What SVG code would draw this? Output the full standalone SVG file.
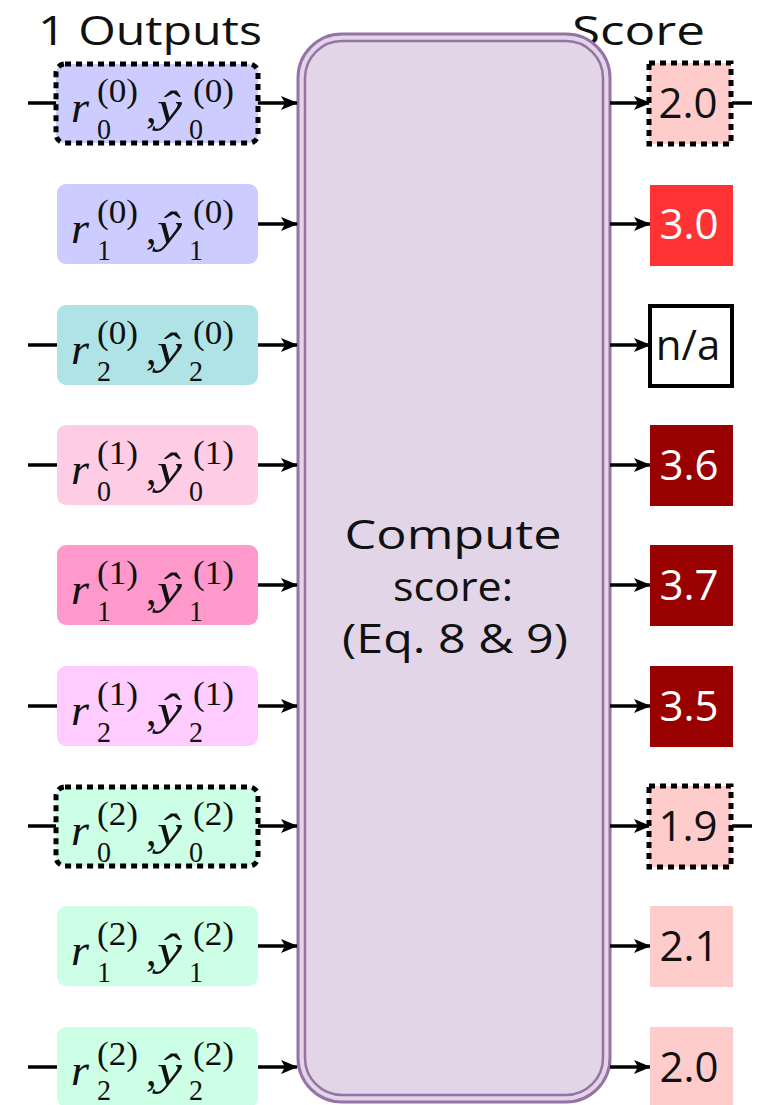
<svg xmlns="http://www.w3.org/2000/svg" width="767" height="1105" viewBox="0 0 767 1105">
  <style>
    .hdr { font-family: "Open Sans", "Liberation Sans", sans-serif; font-size: 41px; fill: #111; }
    .big { font-family: "Open Sans", "Liberation Sans", sans-serif; font-size: 40px; fill: #111; text-anchor: middle; }
    .sc { font-family: "Open Sans", "Liberation Sans", sans-serif; font-size: 42px; text-anchor: middle; }
    .m { font-family: "Liberation Serif", "Times New Roman", serif; font-style: italic; font-size: 44px; fill: #111; }
    .up { font-family: "Liberation Serif", "Times New Roman", serif; font-size: 42px; fill: #111; }
    .sp { font-family: "Liberation Serif", "Times New Roman", serif; font-size: 34px; fill: #111; }
    .sb { font-family: "Liberation Serif", "Times New Roman", serif; font-size: 30px; fill: #111; }
    .dot { stroke: #000; stroke-width: 5; stroke-dasharray: 6 5; }
    .wire { stroke: #000; stroke-width: 3.5; fill: none; }
    .arr { stroke: #000; stroke-width: 3.5; fill: none; marker-end: url(#head); }
  </style>
  <defs>
    <marker id="head" markerUnits="userSpaceOnUse" markerWidth="17" markerHeight="14" refX="16" refY="7" orient="auto">
      <path d="M0,0 L17,7 L0,14 L4,7 Z" fill="#000"/>
    </marker>
  </defs>

  <rect width="767" height="1105" fill="#fff"/>

  <!-- column headers -->
  <text id="hdr-outputs" class="hdr" x="38" y="45" textLength="224" lengthAdjust="spacingAndGlyphs">1 Outputs</text>
  <text id="hdr-score" class="hdr" x="572" y="45" textLength="133" lengthAdjust="spacingAndGlyphs">Score</text>

  <!-- central scoring block -->
  <g id="compute">
    <rect x="298" y="34" width="312" height="1068" rx="44" fill="#e1d5e7" stroke="#9673a6" stroke-width="3"/>
    <rect x="305" y="41" width="298" height="1054" rx="37" fill="none" stroke="#9673a6" stroke-width="2.5"/>
    <text class="big" x="453" y="549" textLength="217" lengthAdjust="spacingAndGlyphs">Compute</text>
    <text class="big" x="453" y="601" textLength="120" lengthAdjust="spacingAndGlyphs">score:</text>
    <text class="big" x="455" y="653" textLength="226" lengthAdjust="spacingAndGlyphs">(Eq. 8 &amp; 9)</text>
  </g>

  <!-- connectors -->
  <g id="connectors">
    <!-- incoming stubs -->
    <line class="wire" x1="28" y1="103" x2="57" y2="103"/>
    <line class="wire" x1="28" y1="345" x2="57" y2="345"/>
    <line class="wire" x1="28" y1="465" x2="57" y2="465"/>
    <line class="wire" x1="28" y1="706" x2="57" y2="706"/>
    <line class="wire" x1="28" y1="826" x2="57" y2="826"/>
    <line class="wire" x1="28" y1="1067" x2="57" y2="1067"/>
    <!-- outputs into the scoring block -->
    <line class="arr" x1="258" y1="103" x2="297" y2="103"/>
    <line class="arr" x1="258" y1="224" x2="297" y2="224"/>
    <line class="arr" x1="258" y1="345" x2="297" y2="345"/>
    <line class="arr" x1="258" y1="465" x2="297" y2="465"/>
    <line class="arr" x1="258" y1="585" x2="297" y2="585"/>
    <line class="arr" x1="258" y1="706" x2="297" y2="706"/>
    <line class="arr" x1="258" y1="826" x2="297" y2="826"/>
    <line class="arr" x1="258" y1="946" x2="297" y2="946"/>
    <line class="arr" x1="258" y1="1067" x2="297" y2="1067"/>
    <!-- scores out of the block -->
    <line class="arr" x1="610" y1="103" x2="650" y2="103"/>
    <line class="arr" x1="610" y1="224" x2="650" y2="224"/>
    <line class="arr" x1="610" y1="345" x2="650" y2="345"/>
    <line class="arr" x1="610" y1="465" x2="650" y2="465"/>
    <line class="arr" x1="610" y1="585" x2="650" y2="585"/>
    <line class="arr" x1="610" y1="706" x2="650" y2="706"/>
    <line class="arr" x1="610" y1="826" x2="650" y2="826"/>
    <line class="arr" x1="610" y1="946" x2="650" y2="946"/>
    <line class="arr" x1="610" y1="1067" x2="650" y2="1067"/>
    <!-- outgoing stubs -->
    <line class="wire" x1="732" y1="103" x2="752" y2="103"/>
    <line class="wire" x1="732" y1="826" x2="752" y2="826"/>
  </g>

  <!-- output nodes: r_j^(i), y-hat_j^(i) -->
  <g id="out-0-0">
    <rect x="56" y="64" width="202" height="79" rx="9" fill="#ccccff" class="dot"/>
    <text class="m" x="71" y="122" textLength="18" lengthAdjust="spacingAndGlyphs">r</text><text class="sp" x="97" y="102" textLength="41" lengthAdjust="spacingAndGlyphs">(0)</text><text class="sb" x="97" y="139" textLength="14" lengthAdjust="spacingAndGlyphs">0</text>
    <text class="up" x="146" y="122">,</text>
    <text class="m" x="157" y="122" textLength="25" lengthAdjust="spacingAndGlyphs">ŷ</text><text class="sp" x="193" y="102" textLength="41" lengthAdjust="spacingAndGlyphs">(0)</text><text class="sb" x="189" y="139" textLength="14" lengthAdjust="spacingAndGlyphs">0</text>
  </g>
  <g id="out-0-1">
    <rect x="57" y="184" width="201" height="80" rx="9" fill="#ccccff"/>
    <text class="m" x="71" y="243" textLength="18" lengthAdjust="spacingAndGlyphs">r</text><text class="sp" x="97" y="223" textLength="41" lengthAdjust="spacingAndGlyphs">(0)</text><text class="sb" x="97" y="260" textLength="14" lengthAdjust="spacingAndGlyphs">1</text>
    <text class="up" x="146" y="243">,</text>
    <text class="m" x="157" y="243" textLength="25" lengthAdjust="spacingAndGlyphs">ŷ</text><text class="sp" x="193" y="223" textLength="41" lengthAdjust="spacingAndGlyphs">(0)</text><text class="sb" x="189" y="260" textLength="14" lengthAdjust="spacingAndGlyphs">1</text>
  </g>
  <g id="out-0-2">
    <rect x="57" y="305" width="201" height="80" rx="9" fill="#b0e3e6"/>
    <text class="m" x="71" y="364" textLength="18" lengthAdjust="spacingAndGlyphs">r</text><text class="sp" x="97" y="344" textLength="41" lengthAdjust="spacingAndGlyphs">(0)</text><text class="sb" x="97" y="381" textLength="14" lengthAdjust="spacingAndGlyphs">2</text>
    <text class="up" x="146" y="364">,</text>
    <text class="m" x="157" y="364" textLength="25" lengthAdjust="spacingAndGlyphs">ŷ</text><text class="sp" x="193" y="344" textLength="41" lengthAdjust="spacingAndGlyphs">(0)</text><text class="sb" x="189" y="381" textLength="14" lengthAdjust="spacingAndGlyphs">2</text>
  </g>
  <g id="out-1-0">
    <rect x="57" y="425" width="201" height="80" rx="9" fill="#ffcce6"/>
    <text class="m" x="71" y="484" textLength="18" lengthAdjust="spacingAndGlyphs">r</text><text class="sp" x="97" y="464" textLength="41" lengthAdjust="spacingAndGlyphs">(1)</text><text class="sb" x="97" y="501" textLength="14" lengthAdjust="spacingAndGlyphs">0</text>
    <text class="up" x="146" y="484">,</text>
    <text class="m" x="157" y="484" textLength="25" lengthAdjust="spacingAndGlyphs">ŷ</text><text class="sp" x="193" y="464" textLength="41" lengthAdjust="spacingAndGlyphs">(1)</text><text class="sb" x="189" y="501" textLength="14" lengthAdjust="spacingAndGlyphs">0</text>
  </g>
  <g id="out-1-1">
    <rect x="57" y="545" width="201" height="80" rx="9" fill="#ff99cc"/>
    <text class="m" x="71" y="604" textLength="18" lengthAdjust="spacingAndGlyphs">r</text><text class="sp" x="97" y="584" textLength="41" lengthAdjust="spacingAndGlyphs">(1)</text><text class="sb" x="97" y="621" textLength="14" lengthAdjust="spacingAndGlyphs">1</text>
    <text class="up" x="146" y="604">,</text>
    <text class="m" x="157" y="604" textLength="25" lengthAdjust="spacingAndGlyphs">ŷ</text><text class="sp" x="193" y="584" textLength="41" lengthAdjust="spacingAndGlyphs">(1)</text><text class="sb" x="189" y="621" textLength="14" lengthAdjust="spacingAndGlyphs">1</text>
  </g>
  <g id="out-1-2">
    <rect x="57" y="666" width="201" height="80" rx="9" fill="#ffccff"/>
    <text class="m" x="71" y="725" textLength="18" lengthAdjust="spacingAndGlyphs">r</text><text class="sp" x="97" y="705" textLength="41" lengthAdjust="spacingAndGlyphs">(1)</text><text class="sb" x="97" y="742" textLength="14" lengthAdjust="spacingAndGlyphs">2</text>
    <text class="up" x="146" y="725">,</text>
    <text class="m" x="157" y="725" textLength="25" lengthAdjust="spacingAndGlyphs">ŷ</text><text class="sp" x="193" y="705" textLength="41" lengthAdjust="spacingAndGlyphs">(1)</text><text class="sb" x="189" y="742" textLength="14" lengthAdjust="spacingAndGlyphs">2</text>
  </g>
  <g id="out-2-0">
    <rect x="56" y="787" width="202" height="79" rx="9" fill="#ccffe6" class="dot"/>
    <text class="m" x="71" y="845" textLength="18" lengthAdjust="spacingAndGlyphs">r</text><text class="sp" x="97" y="825" textLength="41" lengthAdjust="spacingAndGlyphs">(2)</text><text class="sb" x="97" y="862" textLength="14" lengthAdjust="spacingAndGlyphs">0</text>
    <text class="up" x="146" y="845">,</text>
    <text class="m" x="157" y="845" textLength="25" lengthAdjust="spacingAndGlyphs">ŷ</text><text class="sp" x="193" y="825" textLength="41" lengthAdjust="spacingAndGlyphs">(2)</text><text class="sb" x="189" y="862" textLength="14" lengthAdjust="spacingAndGlyphs">0</text>
  </g>
  <g id="out-2-1">
    <rect x="57" y="906" width="201" height="80" rx="9" fill="#ccffe6"/>
    <text class="m" x="71" y="965" textLength="18" lengthAdjust="spacingAndGlyphs">r</text><text class="sp" x="97" y="945" textLength="41" lengthAdjust="spacingAndGlyphs">(2)</text><text class="sb" x="97" y="982" textLength="14" lengthAdjust="spacingAndGlyphs">1</text>
    <text class="up" x="146" y="965">,</text>
    <text class="m" x="157" y="965" textLength="25" lengthAdjust="spacingAndGlyphs">ŷ</text><text class="sp" x="193" y="945" textLength="41" lengthAdjust="spacingAndGlyphs">(2)</text><text class="sb" x="189" y="982" textLength="14" lengthAdjust="spacingAndGlyphs">1</text>
  </g>
  <g id="out-2-2">
    <rect x="57" y="1027" width="201" height="80" rx="9" fill="#ccffe6"/>
    <text class="m" x="71" y="1085" textLength="18" lengthAdjust="spacingAndGlyphs">r</text><text class="sp" x="97" y="1065" textLength="41" lengthAdjust="spacingAndGlyphs">(2)</text><text class="sb" x="97" y="1100" textLength="14" lengthAdjust="spacingAndGlyphs">2</text>
    <text class="up" x="146" y="1085">,</text>
    <text class="m" x="157" y="1085" textLength="25" lengthAdjust="spacingAndGlyphs">ŷ</text><text class="sp" x="193" y="1065" textLength="41" lengthAdjust="spacingAndGlyphs">(2)</text><text class="sb" x="189" y="1100" textLength="14" lengthAdjust="spacingAndGlyphs">2</text>
  </g>

  <!-- score nodes -->
  <g id="score-0">
    <rect x="649" y="63" width="82" height="81" fill="#ffcccc" class="dot"/>
    <text class="sc" x="688" y="118" fill="#111">2.0</text>
  </g>
  <g id="score-1">
    <rect x="650" y="185" width="83" height="81" fill="#ff3333"/>
    <text class="sc" x="689" y="239" fill="#fff">3.0</text>
  </g>
  <g id="score-2">
    <rect x="650" y="306" width="82" height="80" fill="#fff" stroke="#000" stroke-width="4"/>
    <text class="sc" x="688" y="360" fill="#111">n/a</text>
  </g>
  <g id="score-3">
    <rect x="650" y="425" width="83" height="81" fill="#990000"/>
    <text class="sc" x="689" y="480" fill="#fff">3.6</text>
  </g>
  <g id="score-4">
    <rect x="650" y="545" width="83" height="81" fill="#990000"/>
    <text class="sc" x="689" y="600" fill="#fff">3.7</text>
  </g>
  <g id="score-5">
    <rect x="650" y="666" width="83" height="81" fill="#990000"/>
    <text class="sc" x="689" y="721" fill="#fff">3.5</text>
  </g>
  <g id="score-6">
    <rect x="649" y="786" width="82" height="81" fill="#ffcccc" class="dot"/>
    <text class="sc" x="688" y="841" fill="#111">1.9</text>
  </g>
  <g id="score-7">
    <rect x="650" y="906" width="83" height="81" fill="#ffcccc"/>
    <text class="sc" x="689" y="961" fill="#111">2.1</text>
  </g>
  <g id="score-8">
    <rect x="650" y="1027" width="83" height="80" fill="#ffcccc"/>
    <text class="sc" x="689" y="1082" fill="#111">2.0</text>
  </g>
</svg>
